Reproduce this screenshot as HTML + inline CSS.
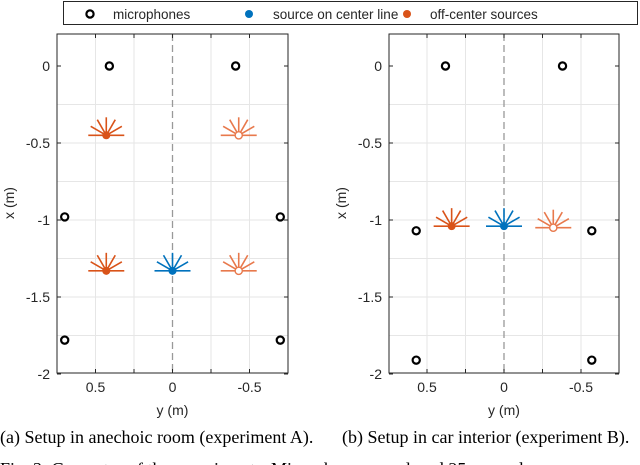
<!DOCTYPE html>
<html><head><meta charset="utf-8"><style>
body{margin:0;background:#fff;width:640px;height:465px;overflow:hidden;position:relative}
svg{position:absolute;left:0;top:0}
text{font-family:"Liberation Sans",sans-serif;font-size:14px;fill:#262626}
.lg{font-size:13.5px}
.cap{font-family:"Liberation Serif",serif;font-size:18px;fill:#000}
</style></head><body>
<svg id="chart" width="640" height="465"></svg>
<script>
// Data (positions in metres): y = lateral, x = longitudinal
const micsA_y=[0.41,-0.41,0.70,-0.70,0.70,-0.70];
const micsA_x=[0,0,-0.98,-0.98,-1.78,-1.78];
const srcA_y=[0.43,-0.43,0.43,0,-0.43];
const srcA_x=[-0.45,-0.45,-1.33,-1.33,-1.33];
const srcA_type=['off','offh','off','center','offh'];
const micsB_y=[0.38,-0.38,0.57,-0.57,0.57,-0.57];
const micsB_x=[0,0,-1.07,-1.07,-1.91,-1.91];
const srcB_y=[0.34,0,-0.32];
const srcB_x=[-1.04,-1.04,-1.05];
const srcB_type=['off','center','offh'];
const xTicks=[0,-0.5,-1,-1.5,-2];
const xTickLabels=['0','-0.5','-1','-1.5','-2'];
const yTicks=[0.5,0,-0.5];
const yTickLabels=['0.5','0','-0.5'];
const gridY=[0.5,0.25,-0.25,-0.5];
const gridX=[-0.25,-0.5,-0.75,-1,-1.25,-1.5,-1.75];

const NS='http://www.w3.org/2000/svg';
const svg=document.getElementById('chart');
function el(tag,attrs,parent){const e=document.createElementNS(NS,tag);for(const k in attrs)e.setAttribute(k,attrs[k]);(parent||svg).appendChild(e);return e;}
const colors={off:'#D95319',offh:'#E8794C',center:'#0072BD'};
const plotTop=34,plotBottom=373,scale=154;
function py(x){return 66-x*scale;}

function panel(name,left,right,micsY,micsX,srcY,srcX,srcT){
  const g=el('g',{});
  
  
  const cx=(left+right)/2;
  const px=y=>cx-y*scale;
  gridY.forEach(v=>{const l=el('line',{x1:px(v),x2:px(v),y1:plotTop,y2:plotBottom,stroke:'#e6e6e6','stroke-width':1},g);});
  gridX.forEach(v=>{const l=el('line',{x1:left,x2:right,y1:py(v),y2:py(v),stroke:'#e6e6e6','stroke-width':1},g);});
  const c=el('line',{x1:px(0),x2:px(0),y1:plotTop,y2:plotBottom,stroke:'#999','stroke-width':1.3,'stroke-dasharray':'7,4'},g);
  
  const box=el('rect',{x:left,y:plotTop,width:right-left,height:plotBottom-plotTop,fill:'none',stroke:'#262626','stroke-width':1},g);
  
  xTicks.forEach((v,i)=>{
    el('line',{x1:left,x2:left+4,y1:py(v),y2:py(v),stroke:'#262626'},g);
    el('line',{x1:right,x2:right-4,y1:py(v),y2:py(v),stroke:'#262626'},g);
    const t=el('text',{x:left-7,y:py(v)+5,'text-anchor':'end'},g);t.textContent=xTickLabels[i];
    
  });
  [0.5,0.25,0,-0.25,-0.5].forEach(v=>{
    el('line',{x1:px(v),x2:px(v),y1:plotBottom,y2:plotBottom-4,stroke:'#262626'},g);
    el('line',{x1:px(v),x2:px(v),y1:plotTop,y2:plotTop+4,stroke:'#262626'},g);
  });
  yTicks.forEach((v,i)=>{const t=el('text',{x:px(v),y:392,'text-anchor':'middle'},g);t.textContent=yTickLabels[i];
    });
  const yl=el('text',{x:cx,y:415,'text-anchor':'middle'},g);yl.textContent='y (m)';
  
  const xl=el('text',{x:0,y:0,'text-anchor':'middle',transform:`translate(${left-43},203) rotate(-90)`},g);xl.textContent='x (m)';
  
  micsY.forEach((v,i)=>{const m=el('circle',{cx:px(v),cy:py(micsX[i]),r:3.6,fill:'none',stroke:'#000','stroke-width':2.2},g);
    });
  srcY.forEach((v,i)=>{
    const X=px(v),Y=py(srcX[i]),col=colors[srcT[i]];
    const s=el('g',{},g);
    
    el('line',{x1:X-18,x2:X+18,y1:Y,y2:Y,stroke:col,'stroke-width':1.6},s);
    [30,60,90,120,150].forEach(a=>{const r=a*Math.PI/180;
      el('line',{x1:X,y1:Y,x2:X+18*Math.cos(r),y2:Y-18*Math.sin(r),stroke:col,'stroke-width':1.6},s);});
    if(srcT[i]==='offh') el('circle',{cx:X,cy:Y,r:3.6,fill:'#fff',stroke:col,'stroke-width':1.4},s);
    else el('circle',{cx:X,cy:Y,r:4,fill:col},s);
  });
}
panel('panel-anechoic',57,288,micsA_y,micsA_x,srcA_y,srcA_x,srcA_type);
panel('panel-car',389,619,micsB_y,micsB_x,srcB_y,srcB_x,srcB_type);

// legend
const lg=el('g',{});

el('rect',{x:63.5,y:1.5,width:574,height:23,fill:'#fff',stroke:'#262626','stroke-width':1},lg);
const e1=el('circle',{cx:90,cy:14,r:3.6,fill:'none',stroke:'#000','stroke-width':2.2},lg);

let t=el('text',{x:113,y:19,class:'lg'},lg);t.textContent='microphones';
const e2=el('circle',{cx:249,cy:14,r:4,fill:'#0072BD'},lg);

t=el('text',{x:273,y:19,class:'lg'},lg);t.textContent='source on center line';
const e3=el('circle',{cx:407,cy:14,r:4,fill:'#D95319'},lg);

t=el('text',{x:430,y:19,class:'lg'},lg);t.textContent='off-center sources';

// captions
let c1=el('text',{x:0,y:443,class:'cap'});c1.textContent='(a) Setup in anechoic room (experiment A).';

let c2=el('text',{x:342,y:443,class:'cap'});c2.textContent='(b) Setup in car interior (experiment B).';

let c3=el('text',{x:0,y:475,class:'cap'});c3.textContent='Fig. 3:   Geometry of the experiments.   Microphones are placed 25 cm and';

</script>
</body></html>
